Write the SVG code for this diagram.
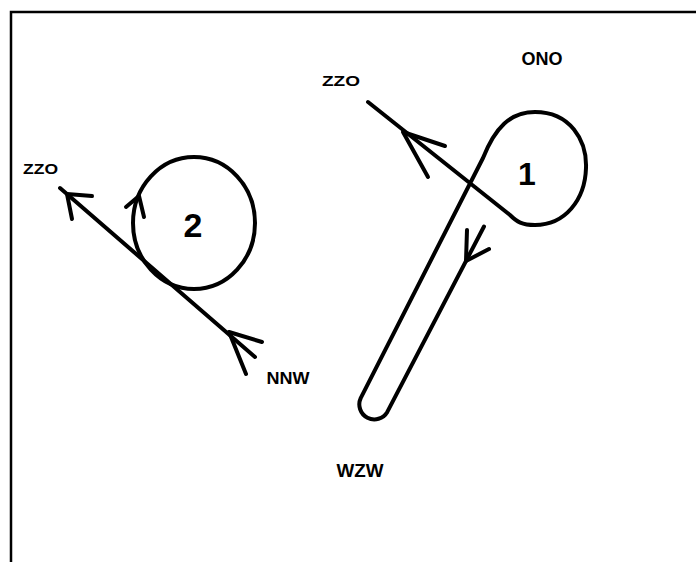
<svg xmlns="http://www.w3.org/2000/svg" width="696" height="562" viewBox="0 0 696 562">
<style>
.ln{fill:none;stroke:#000;stroke-width:4;stroke-linecap:round;stroke-linejoin:round}
.lbl{font-family:"Liberation Sans",Arial,sans-serif;font-weight:bold;fill:#000}
.num{font-family:"Liberation Sans",Arial,sans-serif;font-weight:bold;fill:#000;text-anchor:middle}
</style>
<rect x="0" y="0" width="696" height="562" fill="#fff"/>
<rect x="11" y="12" width="700" height="560" fill="none" stroke="#000" stroke-width="2.5"/>
<g id="node-1">
<path class="ln" d="M484 226.5 L387.3 411.9 A15 15 0 0 1 360.7 398.1 L483 158 C495 128 510 112 535 112 C570 112 587 140 586 168 C585 200 565 225 535 225 C522 225 517 222 510 215 L368 102"/>
<text class="num" x="527" y="185" font-size="32">1</text>
</g>
<g id="node-2">
<ellipse class="ln" cx="194" cy="223" rx="61" ry="66"/>
<text class="num" x="193" y="237" font-size="34">2</text>
</g>
<g id="connectors">
<path class="ln" d="M60 188 L255 357"/>
<path class="ln" d="M445 146 L403 132 L428 177"/>
<path class="ln" d="M467 230 L466 261 L489 249"/>
<path class="ln" d="M92 196 L67 194 L72 219"/>
<path class="ln" d="M262 342 L229 332 L246 374"/>
<path class="ln" d="M126 207 L139 196 L144 217"/>
</g>
<g id="labels">
<text class="lbl" x="521.5" y="65" font-size="18" textLength="41" lengthAdjust="spacingAndGlyphs">ONO</text>
<text class="lbl" x="322" y="85.5" font-size="15" textLength="38" lengthAdjust="spacingAndGlyphs">ZZO</text>
<text class="lbl" x="23" y="173.5" font-size="15" textLength="35" lengthAdjust="spacingAndGlyphs">ZZO</text>
<text class="lbl" x="266.5" y="383.5" font-size="16" textLength="43" lengthAdjust="spacingAndGlyphs">NNW</text>
<text class="lbl" x="336.5" y="476.5" font-size="19" textLength="47" lengthAdjust="spacingAndGlyphs">WZW</text>
</g>
</svg>
